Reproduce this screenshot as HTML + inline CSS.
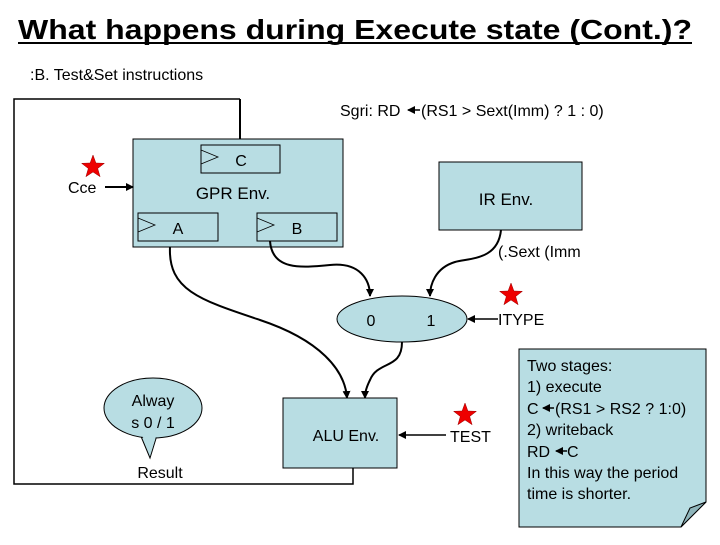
<!DOCTYPE html>
<html><head><style>
body{margin:0;width:720px;height:540px;background:#fff;overflow:hidden;font-family:"Liberation Sans",Arial,sans-serif}
</style></head><body>
<svg width="720" height="540" xmlns="http://www.w3.org/2000/svg" font-family="Liberation Sans, Arial, sans-serif">
<defs>
<marker id="ar" markerWidth="8" markerHeight="8" refX="7" refY="4" orient="auto" markerUnits="userSpaceOnUse"><path d="M0,0 L8,4 L0,8 z" fill="#000"/></marker>
<polygon id="star" points="0,-12 2.9,-4 11.4,-3.7 4.7,1.5 7.1,9.7 0,5 -7.1,9.7 -4.7,1.5 -11.4,-3.7 -2.9,-4" fill="#e00" stroke="#900" stroke-width="0.5"/>
</defs>
<text x="18" y="39" font-size="28" font-weight="bold" textLength="674" lengthAdjust="spacingAndGlyphs">What happens during Execute state (Cont.)?</text>
<line x1="18" y1="43" x2="692" y2="43" stroke="#000" stroke-width="2"/>
<text x="30" y="80" font-size="16">:B. Test&amp;Set instructions</text>
<text x="340" y="116" font-size="16">Sgri: RD</text>
<line x1="420" y1="110" x2="408" y2="110" stroke="#000" stroke-width="1.5" marker-end="url(#ar)"/>
<text x="421" y="116" font-size="16">(RS1 &gt; Sext(Imm) ? 1 : 0)</text>
<polyline points="240,99 14,99 14,484 353,484 353,468" fill="none" stroke="#000" stroke-width="1.5"/>
<line x1="240" y1="99" x2="240" y2="146" stroke="#000" stroke-width="2" marker-end="url(#ar)"/>
<rect x="133" y="139" width="210" height="108" fill="#b8dde3" stroke="#000"/>
<rect x="201" y="145" width="79" height="28" fill="#b8dde3" stroke="#000"/>
<polyline points="201,150 218,157 201,164" fill="none" stroke="#000" stroke-width="0.8"/>
<text x="241" y="166" font-size="16" text-anchor="middle">C</text>
<text x="233" y="199" font-size="17" text-anchor="middle">GPR Env.</text>
<rect x="138" y="213" width="80" height="28" fill="#b8dde3" stroke="#000"/>
<polyline points="138,218 155,225 138,232" fill="none" stroke="#000" stroke-width="0.8"/>
<text x="178" y="234" font-size="16" text-anchor="middle">A</text>
<rect x="257" y="213" width="80" height="28" fill="#b8dde3" stroke="#000"/>
<polyline points="257,218 274,225 257,232" fill="none" stroke="#000" stroke-width="0.8"/>
<text x="297" y="234" font-size="16" text-anchor="middle">B</text>
<use href="#star" x="93" y="167"/>
<text x="68" y="193" font-size="16">Cce</text>
<line x1="105" y1="187" x2="133" y2="187" stroke="#000" stroke-width="2" marker-end="url(#ar)"/>
<rect x="439" y="162" width="143" height="68" fill="#b8dde3" stroke="#000"/>
<text x="506" y="205" font-size="17" text-anchor="middle">IR Env.</text>
<text x="498" y="257" font-size="16">(.Sext (Imm</text>
<ellipse cx="402" cy="319" rx="65" ry="23" fill="#b8dde3" stroke="#000"/>
<text x="371" y="326" font-size="16" text-anchor="middle">0</text>
<text x="431" y="326" font-size="16" text-anchor="middle">1</text>
<use href="#star" x="511" y="295"/>
<line x1="498" y1="319" x2="468" y2="319" stroke="#000" stroke-width="1.5" marker-end="url(#ar)"/>
<text x="498" y="325" font-size="16">ITYPE</text>
<path d="M270,241 C272,270 300,268 330,265 C360,262 370,280 370,296" fill="none" stroke="#000" stroke-width="2" marker-end="url(#ar)"/>
<path d="M501,230 C498,260 470,258 455,262 C435,268 430,285 430,296" fill="none" stroke="#000" stroke-width="2" marker-end="url(#ar)"/>
<path d="M170,247 C168,290 200,300 260,320 C320,340 345,370 347,398" fill="none" stroke="#000" stroke-width="2" marker-end="url(#ar)"/>
<path d="M402,342 C402,370 378,360 370,380 C365,390 365,395 365,398" fill="none" stroke="#000" stroke-width="2" marker-end="url(#ar)"/>
<rect x="283" y="398" width="114" height="70" fill="#b8dde3" stroke="#000"/>
<text x="346" y="441" font-size="16" text-anchor="middle">ALU Env.</text>
<use href="#star" x="465" y="415"/>
<line x1="446" y1="435" x2="399" y2="435" stroke="#000" stroke-width="1.5" marker-end="url(#ar)"/>
<text x="450" y="442" font-size="16">TEST</text>
<path d="M140,434 L150,458 L158,432 Z" fill="#b8dde3" stroke="#000"/>
<ellipse cx="153" cy="408" rx="49" ry="30" fill="#b8dde3" stroke="#000"/>
<path d="M141,432 L150,456 L157,433" fill="#b8dde3" stroke="none"/>
<text x="153" y="406" font-size="16" text-anchor="middle">Alway</text>
<text x="153" y="428" font-size="16" text-anchor="middle">s 0 / 1</text>
<text x="160" y="478" font-size="16" text-anchor="middle">Result</text>
<path d="M519,349 L706,349 L706,502 L681,527 L519,527 Z" fill="#b8dde3" stroke="#000"/>
<path d="M706,502 L690,508 L681,527 Z" fill="#8fb5bb" stroke="#000"/>
<g font-size="16">
<text x="527" y="371">Two stages:</text>
<text x="527" y="392">1) execute</text>
<text x="527" y="414">C</text>
<line x1="554" y1="408" x2="543" y2="408" stroke="#000" stroke-width="1.5" marker-end="url(#ar)"/>
<text x="555" y="414">(RS1 &gt; RS2 ? 1:0)</text>
<text x="527" y="435">2) writeback</text>
<text x="527" y="457">RD</text>
<line x1="567" y1="451" x2="556" y2="451" stroke="#000" stroke-width="1.5" marker-end="url(#ar)"/>
<text x="567" y="457">C</text>
<text x="527" y="478">In this way the period</text>
<text x="527" y="499">time is shorter.</text>
</g>
</svg>
</body></html>
